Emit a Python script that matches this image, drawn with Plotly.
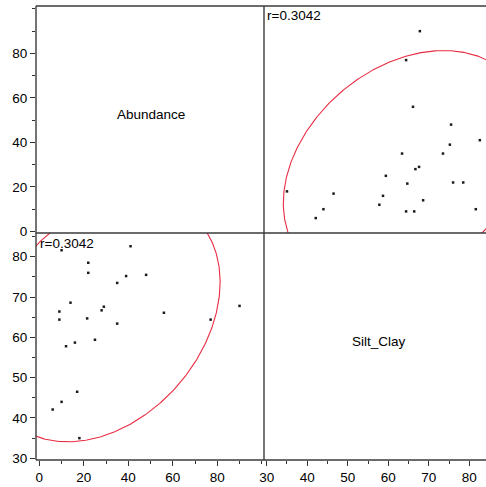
import numpy as np
import plotly.graph_objects as go

# ---- data ----
silt_clay = [67.8, 64.4, 66.1, 75.5, 82.6, 75.2, 63.4, 73.5, 67.6, 66.7, 59.4, 64.7,
             76.0, 78.5, 35.0, 46.5, 58.7, 68.6, 57.8, 44.0, 81.6, 64.4, 66.4, 42.1]
abundance = [90, 77, 56, 48, 41, 39, 35, 35, 29, 28, 25, 21.5,
             22, 22, 18, 17, 16, 14, 12, 10, 10, 9, 9, 6]
var_names = ["Abundance", "Silt_Clay"]
r_label = "r=0.3042"
ab_ticks = [0, 20, 40, 60, 80]
silt_ticks = [30, 40, 50, 60, 70, 80]

# ---- 95% density ellipse from the data ----
X = np.array([silt_clay, abundance], dtype=float)
mu = X.mean(axis=1)
cov = np.cov(X)
L = np.linalg.cholesky(cov)
t = np.linspace(0, 2 * np.pi, 500)
k = np.sqrt(-2 * np.log(0.05))
E = mu[:, None] + k * (L @ np.vstack([np.cos(t), np.sin(t)]))
ell_silt, ell_ab = E[0], E[1]

RED = "rgb(232,44,66)"
PT = "#1a1a1a"
LINE = "#3a3a3a"
FONT = "Arial, Liberation Sans, sans-serif"

fig = go.Figure()
# top-right: x = Silt_Clay, y = Abundance
fig.add_trace(go.Scatter(x=ell_silt, y=ell_ab, mode="lines", line=dict(color=RED, width=1.1),
                         xaxis="x2", yaxis="y2", hoverinfo="skip"))
fig.add_trace(go.Scatter(x=silt_clay, y=abundance, mode="markers",
                         marker=dict(symbol="square", size=2.5, color=PT, line=dict(width=0)),
                         xaxis="x2", yaxis="y2"))
# bottom-left: x = Abundance, y = Silt_Clay
fig.add_trace(go.Scatter(x=ell_ab, y=ell_silt, mode="lines", line=dict(color=RED, width=1.1),
                         xaxis="x3", yaxis="y3", hoverinfo="skip"))
fig.add_trace(go.Scatter(x=abundance, y=silt_clay, mode="markers",
                         marker=dict(symbol="square", size=2.5, color=PT, line=dict(width=0)),
                         xaxis="x3", yaxis="y3"))
# empty diagonal subplots
fig.add_trace(go.Scatter(x=[None], y=[None], xaxis="x", yaxis="y"))
fig.add_trace(go.Scatter(x=[None], y=[None], xaxis="x4", yaxis="y4"))

split = 228 / 450
c1 = [0, split]
c2 = [split, 1]
r1 = [0.5, 1]
r2 = [0, 0.5]
AB_X = [-1.5, 101.0]
AB_Y = [-0.7, 101.3]
SI_X = [29.33, 84.12]
SI_Y = [29.58, 85.88]

tickfont = dict(family=FONT, size=13.5, color="black")


def ax(domain, rng, anchor, ticks=None, minor=None):
    d = dict(domain=domain, range=rng, anchor=anchor, showgrid=False, zeroline=False,
             showline=False, fixedrange=True)
    if ticks is None:
        d.update(showticklabels=False, ticks="")
    else:
        d.update(tickmode="array", tickvals=ticks, ticks="outside", ticklen=5, tickwidth=1,
                 tickcolor="#333333", tickfont=tickfont,
                 minor=dict(dtick=minor, ticks="outside", ticklen=3, tickwidth=1,
                            tickcolor="#333333", showgrid=False))
    return d


fig.update_layout(
    width=486, height=487,
    margin=dict(l=36, r=0, t=6, b=27),
    paper_bgcolor="white", plot_bgcolor="white",
    showlegend=False,
    xaxis=ax(c1, AB_X, "y"),
    yaxis=ax(r1, AB_Y, "x", ticks=ab_ticks, minor=10),
    xaxis2=ax(c2, SI_X, "y2"),
    yaxis2=ax(r1, AB_Y, "x2"),
    xaxis3=ax(c1, AB_X, "y3", ticks=ab_ticks, minor=10),
    yaxis3=ax(r2, SI_Y, "x3", ticks=silt_ticks, minor=5),
    xaxis4=ax(c2, SI_X, "y4", ticks=silt_ticks, minor=5),
    yaxis4=ax(r2, SI_Y, "x4"),
)

# frame lines (drawn once each)
frame = [
    (0, 1, 1, 1),        # top
    (0, 0, 1, 0),        # bottom
    (0, 0, 0, 1),        # left
    (split, 0, split, 1),  # middle vertical
    (0, 0.5, 1, 0.5),    # middle horizontal
]
for x0, y0, x1, y1 in frame:
    fig.add_shape(type="line", xref="paper", yref="paper", x0=x0, y0=y0, x1=x1, y1=y1,
                  line=dict(color=LINE, width=1.4))

labfont = dict(family=FONT, size=13.5, color="black")
fig.add_annotation(text=var_names[0], xref="paper", yref="paper", x=(150.5 - 36) / 450,
                   y=(460 - 114.3) / 454, showarrow=False, font=labfont,
                   xanchor="center", yanchor="middle")
fig.add_annotation(text=var_names[1], xref="paper", yref="paper", x=(378.6 - 36) / 450,
                   y=(460 - 341.7) / 454, showarrow=False, font=labfont,
                   xanchor="center", yanchor="middle")
fig.add_annotation(text=r_label, xref="paper", yref="paper", x=(265 - 36) / 450,
                   y=(460 - 16) / 454, showarrow=False, font=labfont,
                   xanchor="left", yanchor="middle")
fig.add_annotation(text=r_label, xref="paper", yref="paper", x=(38 - 36) / 450,
                   y=(460 - 243.5) / 454, showarrow=False, font=labfont,
                   xanchor="left", yanchor="middle")

fig.write_html("out.html", config={"displayModeBar": False})
